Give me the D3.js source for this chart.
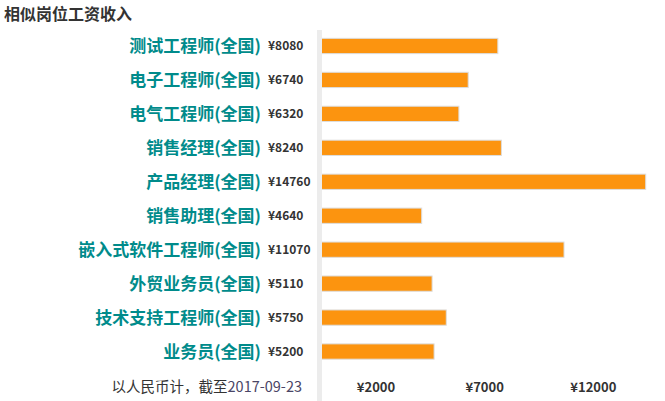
<!DOCTYPE html>
<html>
<head>
<meta charset="utf-8">
<script src="https://cdn.jsdelivr.net/npm/d3@7"></script>
<style>
  body { margin: 0; background: #fff; }
  text { font-family: "Noto Sans CJK SC", "Noto Sans", sans-serif; }
</style>
</head>
<body>
<div id="chart"></div>
<script>
// job titles and monthly salary (RMB)
var jobs = ['测试工程师(全国)', '电子工程师(全国)', '电气工程师(全国)', '销售经理(全国)', '产品经理(全国)',
            '销售助理(全国)', '嵌入式软件工程师(全国)', '外贸业务员(全国)', '技术支持工程师(全国)', '业务员(全国)'];
var salaries = [8080, 6740, 6320, 8240, 14760, 4640, 11070, 5110, 5750, 5200];
var tickValues = [2000, 7000, 12000];

var w = 665;
var h = 401;

var svg = d3.select('#chart')
            .append('svg')
            .attr('width', w)
            .attr('height', h);

//scales
var x = d3.scaleLinear()
          .domain([0, d3.max(salaries)])
          .range([319, 645.7]);

var y = d3.scaleBand()
          .domain(jobs)
          .range([29, 368.5])
          .paddingInner(0.55)
          .paddingOuter(0.275);

// bottom labels sit on their own spacing, not on the bar scale
var xTick = d3.scaleLinear()
              .domain([0, 15000])
              .range([332.5, 658.6]);

//title
svg.append('text')
   .attr('x', 4)
   .attr('y', 20)
   .attr('font-size', 16)
   .attr('font-weight', 'bold')
   .attr('fill', '#333')
   .text('相似岗位工资收入');

//bars
svg.selectAll('rect.bar')
   .data(salaries)
   .enter()
   .append('rect')
   .attr('class', 'bar')
   .attr('x', x(0))
   .attr('y', function (d, i) { return y(jobs[i]); })
   .attr('width', function (d) { return x(d) - x(0); })
   .attr('height', y.bandwidth())
   .attr('fill', '#fc940f')
   .attr('stroke', '#ddd')
   .attr('stroke-width', 1);

//grey axis strip
svg.append('rect')
   .attr('x', 317)
   .attr('y', 30)
   .attr('width', 5)
   .attr('height', h - 30)
   .attr('fill', '#ececec');

//job labels
svg.selectAll('text.job')
   .data(jobs)
   .enter()
   .append('text')
   .attr('class', 'job')
   .attr('x', 261)
   .attr('y', function (d) { return y(d) + y.bandwidth() / 2; })
   .attr('dy', '0.36em')
   .attr('text-anchor', 'end')
   .attr('font-size', 17)
   .attr('font-weight', 'bold')
   .attr('fill', '#008b8b')
   .text(function (d) { return d; });

//salary labels
svg.selectAll('text.val')
   .data(salaries)
   .enter()
   .append('text')
   .attr('class', 'val')
   .attr('x', 268)
   .attr('y', function (d, i) { return y(jobs[i]) + y.bandwidth() / 2; })
   .attr('dy', '0.36em')
   .attr('font-size', 12)
   .attr('font-weight', 'bold')
   .attr('fill', '#333')
   .text(function (d) { return '¥' + d; });

//bottom tick labels
svg.selectAll('text.tick')
   .data(tickValues)
   .enter()
   .append('text')
   .attr('class', 'tick')
   .attr('x', function (d) { return xTick(d); })
   .attr('y', 387.5)
   .attr('dy', '0.36em')
   .attr('text-anchor', 'middle')
   .attr('font-size', 13)
   .attr('font-weight', 'bold')
   .attr('fill', '#333')
   .text(function (d) { return '¥' + d; });

//footnote
var note = svg.append('text')
   .attr('x', 302)
   .attr('y', 387)
   .attr('dy', '0.36em')
   .attr('text-anchor', 'end')
   .attr('font-size', 14.5)
   .attr('fill', '#333');
note.append('tspan').text('以人民币计，截至');
note.append('tspan').attr('fill', '#4a4566').text('2017-09-23');
</script>
</body>
</html>
